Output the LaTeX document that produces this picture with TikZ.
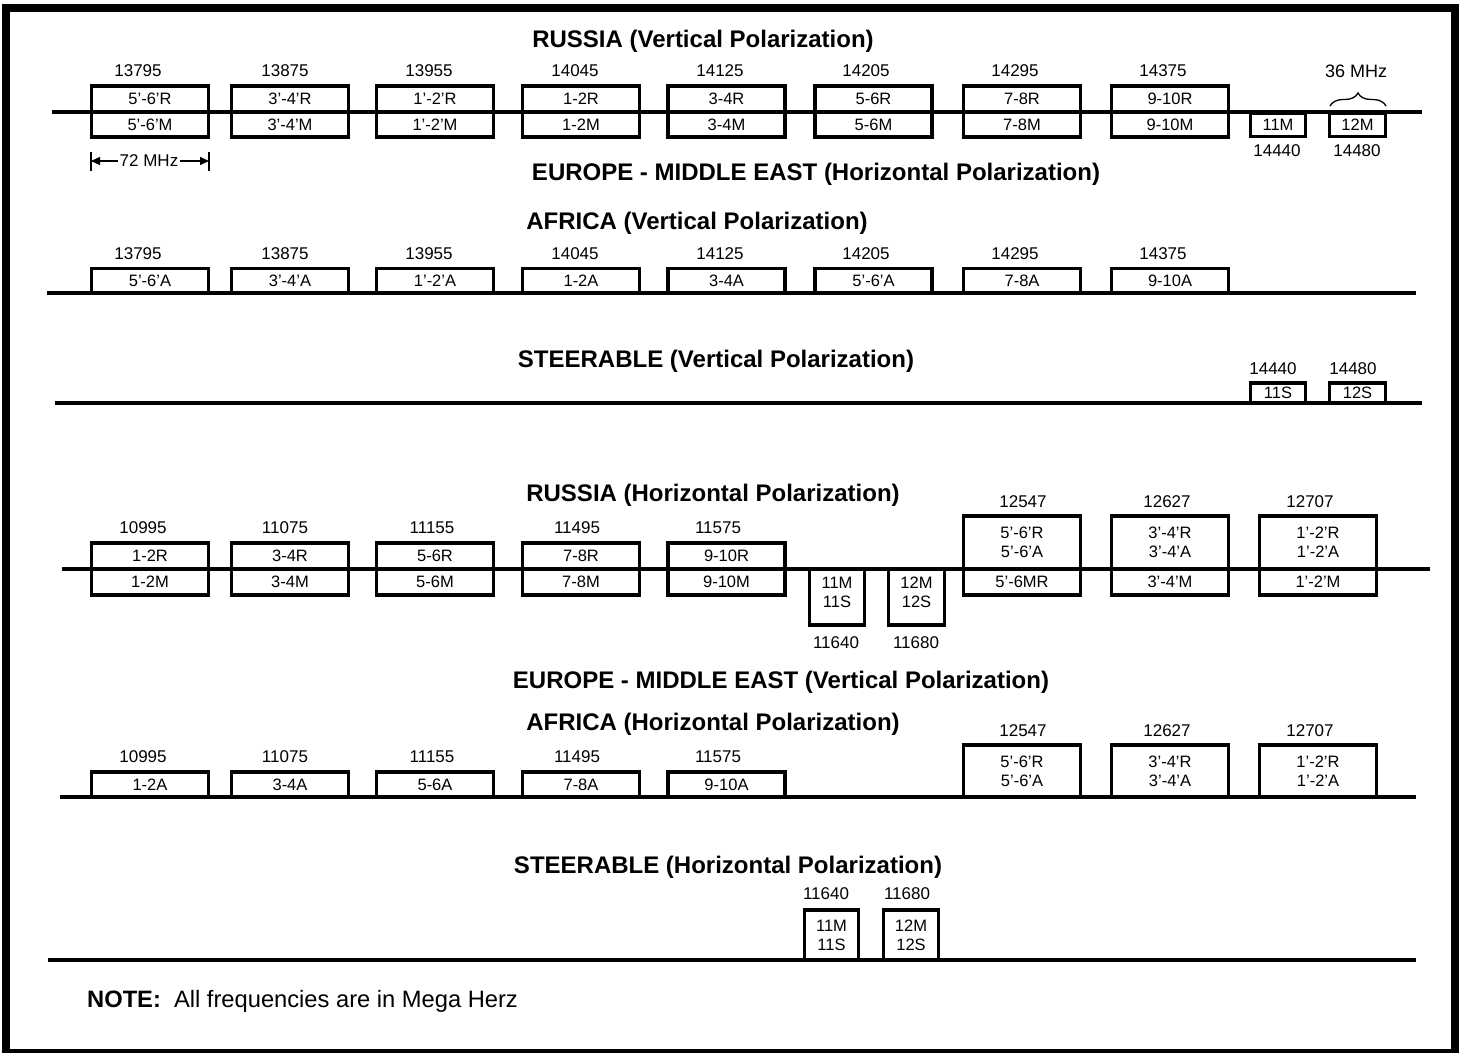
\documentclass[tikz,border=0pt]{standalone}
\usepackage{fontspec}
\setmainfont{Liberation Sans}
\usetikzlibrary{arrows.meta,decorations.pathreplacing}
\begin{document}
\begin{tikzpicture}[x=1pt,y=-1pt,
  sm/.style={font=\fontsize{17}{18}\selectfont, inner sep=0pt},
  ttl/.style={font=\bfseries\fontsize{24}{27}\selectfont, inner sep=0pt},
  bx/.style={draw, line width=3.3pt, inner sep=0pt, font=\fontsize{16.5}{19}\selectfont, align=center, minimum width=117pt},
  bxtext/.style={inner sep=0pt, font=\fontsize{16.5}{19}\selectfont, align=center},
  axisline/.style={line width=3.6pt},
  dimline/.style={line width=1.3pt}]
\useasboundingbox (0,0) rectangle (1461,1052);
\draw[line width=8pt] (6,8) rectangle (1455,1053);

% ===== RUSSIA (Vertical) =====
\node[ttl] (t1) at (703,41) {RUSSIA (Vertical Polarization)};
\foreach \cx/\fx/\f/\u/\l [count=\i] in {150/138/13795/5'-6'R/5'-6'M, 290/285/13875/3'-4'R/3'-4'M, 435/429/13955/1'-2'R/1'-2'M, 581/575/14045/1-2R/1-2M, 726.5/720/14125/3-4R/3-4M, 873.5/866/14205/5-6R/5-6M, 1022/1015/14295/7-8R/7-8M, 1170/1163/14375/9-10R/9-10M}{
  \node[sm] (rvf\i) at (\fx,71) {\f};
  \node[bx, minimum height=26pt] (rvu\i) at (\cx,99) {\u};
  \node[bx, minimum height=25pt] (rvl\i) at (\cx,124.5) {\l};
}
\node[bx, minimum width=55pt, minimum height=23pt] (rv11) at (1278,125) {11M};
\node[bx, minimum width=56pt, minimum height=23pt] (rv12) at (1357.5,125) {12M};
\node[sm] (rvf11) at (1277,151) {14440};
\node[sm] (rvf12) at (1357,151) {14480};
\node[font=\fontsize{18}{20}\selectfont, inner sep=0pt] (m36) at (1356,71) {36 MHz};
\coordinate (brL) at (1330,106);
\coordinate (brR) at (1386,106);
\draw[dimline, decorate, decoration={brace, amplitude=13pt, aspect=0.5}] (brL) -- (brR);
\coordinate (a1L) at (52,112);
\coordinate (a1R) at (1422,112);
\draw[axisline] (a1L) -- (a1R);
% 72 MHz
\node[font=\fontsize{17}{19}\selectfont, inner sep=2pt] (m72) at (149,161) {72 MHz};
\coordinate (d1) at (91,161);
\coordinate (d2) at (209,161);
\draw[dimline] (91,152) -- (91,171);
\draw[dimline] (209,152) -- (209,171);
\draw[dimline, -{Triangle[length=9pt,width=8pt]}] (m72.west) -- (d1);
\draw[dimline, -{Triangle[length=9pt,width=8pt]}] (m72.east) -- (d2);

\node[ttl] (t2) at (816,174) {EUROPE - MIDDLE EAST (Horizontal Polarization)};

% ===== AFRICA (Vertical) =====
\node[ttl] (t3) at (697,223) {AFRICA (Vertical Polarization)};
\foreach \cx/\fx/\f/\u [count=\i] in {150/138/13795/5'-6'A, 290/285/13875/3'-4'A, 435/429/13955/1'-2'A, 581/575/14045/1-2A, 726.5/720/14125/3-4A, 873.5/866/14205/5'-6'A, 1022/1015/14295/7-8A, 1170/1163/14375/9-10A}{
  \node[sm] (avf\i) at (\fx,254) {\f};
  \node[bx, minimum height=25pt] (avu\i) at (\cx,281) {\u};
}
\coordinate (a2L) at (47,293);
\coordinate (a2R) at (1416,293);
\draw[axisline] (a2L) -- (a2R);

% ===== STEERABLE (Vertical) =====
\node[ttl] (t4) at (716,361) {STEERABLE (Vertical Polarization)};
\node[sm] (svf1) at (1273,369) {14440};
\node[sm] (svf2) at (1353,369) {14480};
\node[bx, minimum width=55pt, minimum height=20pt] (sv1) at (1278,393) {11S};
\node[bx, minimum width=56pt, minimum height=20pt] (sv2) at (1357.5,393) {12S};
\coordinate (a3L) at (55,403);
\coordinate (a3R) at (1422,403);
\draw[axisline] (a3L) -- (a3R);

% ===== RUSSIA (Horizontal) =====
\node[ttl] (t5) at (713,495) {RUSSIA (Horizontal Polarization)};
\foreach \cx/\fx/\f/\u/\l [count=\i] in {150/143/10995/1-2R/1-2M, 290/285/11075/3-4R/3-4M, 435/432/11155/5-6R/5-6M, 581/577/11495/7-8R/7-8M, 726.5/718/11575/9-10R/9-10M}{
  \node[sm] (rhf\i) at (\fx,528) {\f};
  \node[bx, minimum height=26pt] (rhu\i) at (\cx,556) {\u};
  \node[bx, minimum height=26pt] (rhl\i) at (\cx,582) {\l};
}
\node[bx, minimum width=55pt, minimum height=56pt] (rh11) at (837,597) {};
\node[bxtext] (rh11t) at (837,592) {11M\\11S};
\node[bx, minimum width=56pt, minimum height=56pt] (rh12) at (916.5,597) {};
\node[bxtext] (rh12t) at (916.5,592) {12M\\12S};
\node[sm] (rhf11) at (836,643) {11640};
\node[sm] (rhf12) at (916,643) {11680};
\foreach \cx/\fx/\f/\u/\v/\l [count=\i] in {1022/1023/12547/5'-6'R/5'-6'A/5'-6MR, 1170/1167/12627/3'-4'R/3'-4'A/3'-4'M, 1318/1310/12707/1'-2'R/1'-2'A/1'-2'M}{
  \node[sm] (rhg\i) at (\fx,502) {\f};
  \node[bx, minimum height=53pt] (rhb\i) at (\cx,542.5) {\u\\\v};
  \node[bx, minimum height=26pt] (rhc\i) at (\cx,582) {\l};
}
\coordinate (a4L) at (62,569);
\coordinate (a4R) at (1430,569);
\draw[axisline] (a4L) -- (a4R);

\node[ttl] (t6) at (781,682) {EUROPE - MIDDLE EAST (Vertical Polarization)};

% ===== AFRICA (Horizontal) =====
\node[ttl] (t7) at (713,724) {AFRICA (Horizontal Polarization)};
\foreach \cx/\fx/\f/\u [count=\i] in {150/143/10995/1-2A, 290/285/11075/3-4A, 435/432/11155/5-6A, 581/577/11495/7-8A, 726.5/718/11575/9-10A}{
  \node[sm] (ahf\i) at (\fx,757) {\f};
  \node[bx, minimum height=25pt] (ahu\i) at (\cx,784.5) {\u};
}
\foreach \cx/\fx/\f/\u/\v [count=\i] in {1022/1023/12547/5'-6'R/5'-6'A, 1170/1167/12627/3'-4'R/3'-4'A, 1318/1310/12707/1'-2'R/1'-2'A}{
  \node[sm] (ahg\i) at (\fx,731) {\f};
  \node[bx, minimum height=52pt] (ahb\i) at (\cx,771) {\u\\\v};
}
\coordinate (a5L) at (60,797);
\coordinate (a5R) at (1416,797);
\draw[axisline] (a5L) -- (a5R);

% ===== STEERABLE (Horizontal) =====
\node[ttl] (t8) at (728,867) {STEERABLE (Horizontal Polarization)};
\node[sm] (shf1) at (826,894) {11640};
\node[sm] (shf2) at (907,894) {11680};
\node[bx, minimum width=54pt, minimum height=50pt] (sh1) at (831.5,935) {11M\\11S};
\node[bx, minimum width=55pt, minimum height=50pt] (sh2) at (911,935) {12M\\12S};
\coordinate (a6L) at (48,960);
\coordinate (a6R) at (1416,960);
\draw[axisline] (a6L) -- (a6R);

\node[anchor=west, inner sep=0pt, font=\fontsize{23.7}{26}\selectfont] (note) at (87,1001) {\textbf{NOTE:}\ \ All frequencies are in Mega Herz};
\end{tikzpicture}
\end{document}
